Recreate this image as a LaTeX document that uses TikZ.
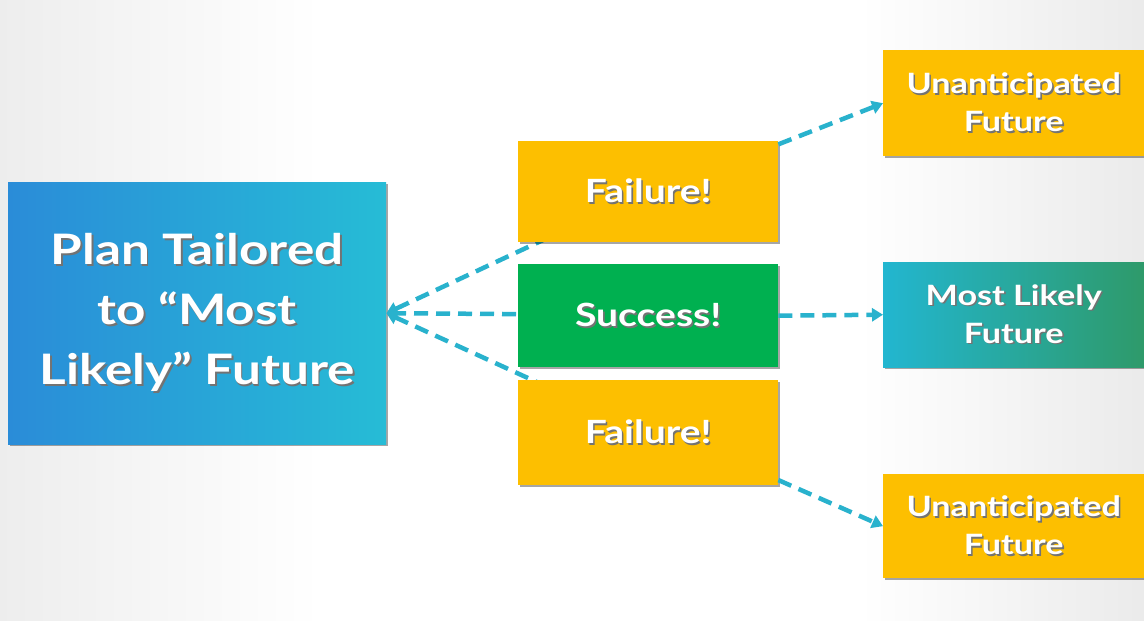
\documentclass[tikz,border=0pt]{standalone}
\usepackage{fontspec}
\setmainfont{Lato}[FakeStretch=1.22]
\usetikzlibrary{arrows.meta,shadows}

\definecolor{amber}{HTML}{FDBF00}
\definecolor{okgreen}{HTML}{00B050}
\definecolor{planL}{HTML}{2A8CD8}
\definecolor{planR}{HTML}{26BCD6}
\definecolor{likelyL}{HTML}{22B6D0}
\definecolor{likelyR}{HTML}{2E9A6A}
\definecolor{link}{HTML}{29B2CD}

% white label with a soft dark offset copy behind it
\newcommand\shd[1]{\leavevmode\rlap{\hspace{1.6pt}\raisebox{-1.6pt}{\textcolor{black!55}{#1}}}#1}

\tikzset{
  card/.style={rectangle, anchor=north west, inner sep=0pt, align=center,
    text=white, font=\bfseries,
    drop shadow={shadow xshift=2pt, shadow yshift=-2pt, opacity=0.35, fill=black}},
  amberbox/.style={card, fill=amber},
  midlabel/.style={font=\bfseries\fontsize{32}{38}\selectfont},
  sidelabel/.style={font=\bfseries\fontsize{28}{38}\selectfont},
  link/.style={draw=link, line width=4.5pt, dash pattern=on 14pt off 8pt,
    -{Triangle[length=11pt,width=13pt]}},
}

\begin{document}
\begin{tikzpicture}[x=1pt,y=-1pt]
  % backdrop
  \fill[white] (0,0) rectangle (1144,621);
  \useasboundingbox (0,0) rectangle (1144,621);
  \shade[left color=black!7, right color=white] (0,0) rectangle (320,621);
  \shade[left color=white, right color=black!8] (860,0) rectangle (1144,621);

  % hidden ends of the left connectors, under the middle boxes
  \coordinate (ftc) at (648,191);
  \coordinate (fbc) at (648,433);
  \coordinate (scc) at (648,315);

  \node[card, left color=planL, right color=planR, minimum width=378pt, minimum height=262pt,
        font=\bfseries\fontsize{42}{60}\selectfont] (plan) at (8,182)
        {\shd{Plan Tailored}\\\shd{to “Most}\\\shd{Likely” Future}};

  \draw[link] (ftc) -- (plan.east);
  \draw[link] (scc) -- (plan.east);
  \draw[link] (fbc) -- (plan.east);

  \node[amberbox, midlabel, minimum width=260pt, minimum height=101pt] (ft) at (518,141) {\shd{Failure!}};
  \node[card, midlabel, fill=okgreen, minimum width=260pt, minimum height=103pt] (sc) at (518,264) {\shd{Success!}};
  \node[amberbox, midlabel, minimum width=260pt, minimum height=105pt] (fb) at (518,380) {\shd{Failure!}};

  \node[amberbox, sidelabel, minimum width=261pt, minimum height=106pt] (uf1) at (883,50)
        {\shd{Unanticipated}\\\shd{Future}};
  \node[card, sidelabel, left color=likelyL, right color=likelyR, minimum width=261pt, minimum height=105pt] (ml) at (883,262)
        {\shd{Most Likely}\\\shd{Future}};
  \node[amberbox, sidelabel, minimum width=261pt, minimum height=104pt] (uf2) at (883,474)
        {\shd{Unanticipated}\\\shd{Future}};

  \draw[link] (ft.20) -- (uf1.west);
  \draw[link] (sc.east) -- (ml.west);
  \draw[link] (fb.-20) -- (uf2.west);
\end{tikzpicture}
\end{document}
